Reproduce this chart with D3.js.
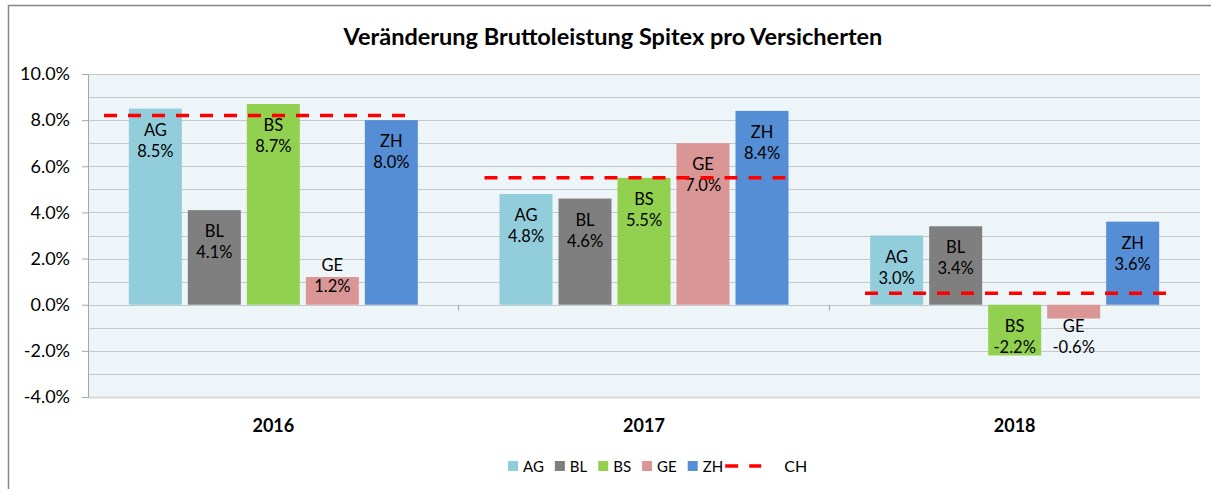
<!DOCTYPE html>
<html>
<head>
<meta charset="utf-8">
<script src="https://cdn.jsdelivr.net/npm/d3@7"></script>
<style>
  body { margin: 0; background: #fff; }
  svg text { font-family: Lato, "Open Sans", sans-serif; fill: #000; }
</style>
</head>
<body>
<svg width="1211" height="489"></svg>
<script>
var years = ["2016", "2017", "2018"];
var cantons = ["AG", "BL", "BS", "GE", "ZH"];
var AG = [8.5, 4.8, 3.0];
var BL = [4.1, 4.6, 3.4];
var BS = [8.7, 5.5, -2.2];
var GE = [1.2, 7.0, -0.6];
var ZH = [8.0, 8.4, 3.6];
var CH = [8.2, 5.5, 0.5];
var yTicks = [-4, -2, 0, 2, 4, 6, 8, 10];

var colors = { AG: "#92cddc", BL: "#7f7f7f", BS: "#92d050", GE: "#da9694", ZH: "#558ed5" };
var series = { AG: AG, BL: BL, BS: BS, GE: GE, ZH: ZH };

var svg = d3.select("svg");
var plotLeft = 88, plotRight = 1200, plotTop = 74, plotBottom = 397;

// chart border
svg.append("path")
  .attr("d", "M8.5,489 L8.5,5.5 L1211,5.5")
  .attr("fill", "none")
  .attr("stroke", "#868686")
  .attr("stroke-width", 1.5);

svg.append("text")
  .attr("x", 613).attr("y", 45)
  .attr("text-anchor", "middle")
  .style("font-size", "23.5px").style("font-weight", "bold")
  .text("Veränderung Bruttoleistung Spitex pro Versicherten");

var y = d3.scaleLinear().domain([-4, 10]).range([plotBottom, plotTop]);
var x0 = d3.scaleBand().domain(years).range([plotLeft, plotRight]);
var x1 = d3.scaleBand().domain(cantons).range([0, 289]).paddingInner(6 / 59);
// the CH series sits on its own (secondary) category positions
var xCH = d3.scalePoint().domain(years).range([257, 1018]);

// plot background
svg.append("rect")
  .attr("x", plotLeft).attr("y", plotTop)
  .attr("width", plotRight - plotLeft).attr("height", plotBottom - plotTop)
  .attr("fill", "#eef5f9");

// gridlines every 1%
svg.append("g").selectAll("line")
  .data(d3.range(-4, 11))
  .enter().append("line")
  .attr("x1", plotLeft).attr("x2", plotRight)
  .attr("y1", function(d) { return Math.round(y(d)) + 0.5; })
  .attr("y2", function(d) { return Math.round(y(d)) + 0.5; })
  .attr("stroke", function(d) { return d === -4 ? "#d9d9d9" : "#c4c8cb"; })
  .attr("stroke-width", function(d) { return d === -4 ? 2 : 1.2; });

// y axis
var yAxis = svg.append("g")
  .attr("transform", "translate(" + plotLeft + ",0)")
  .call(d3.axisLeft(y).tickValues(yTicks).tickSize(6).tickPadding(12)
    .tickFormat(function(d) { return d.toFixed(1) + "%"; }));
yAxis.select(".domain").attr("stroke", "#a6a6a6");
yAxis.selectAll(".tick line").attr("stroke", "#a6a6a6");
yAxis.selectAll("text").style("font-size", "18px").style("font-family", "Lato, sans-serif").attr("fill", "#000");

// category axis on zero line, ticks at band boundaries
svg.append("g").selectAll("line")
  .data([1, 2])
  .enter().append("line")
  .attr("x1", function(d) { return plotLeft + d * x0.bandwidth(); })
  .attr("x2", function(d) { return plotLeft + d * x0.bandwidth(); })
  .attr("y1", y(0)).attr("y2", y(0) + 6)
  .attr("stroke", "#a6a6a6");

svg.append("g").selectAll("text")
  .data(years)
  .enter().append("text")
  .attr("x", function(d) { return x0(d) + x0.bandwidth() / 2; })
  .attr("y", 432)
  .attr("text-anchor", "middle")
  .style("font-size", "18px").style("font-weight", "bold")
  .text(function(d) { return d; });

// bars
var rows = [];
years.forEach(function(yr, i) {
  cantons.forEach(function(c) {
    rows.push({ year: yr, canton: c, value: series[c][i] });
  });
});
var off = x0.bandwidth() / 2 - 144.5;

svg.append("g").selectAll("rect")
  .data(rows)
  .enter().append("rect")
  .attr("x", function(d) { return x0(d.year) + off + x1(d.canton); })
  .attr("y", function(d) { return y(Math.max(d.value, 0)); })
  .attr("width", x1.bandwidth())
  .attr("height", function(d) { return Math.abs(y(d.value) - y(0)); })
  .attr("fill", function(d) { return colors[d.canton]; });

// labels: inside end for positive bars (kept above the zero line), from zero for negatives
var labels = svg.append("g").selectAll("g")
  .data(rows)
  .enter().append("g")
  .attr("transform", function(d) {
    var ay = d.value >= 0 ? Math.min(y(d.value), y(0) - 61) : y(0);
    return "translate(" + (x0(d.year) + off + x1(d.canton) + x1.bandwidth() / 2) + "," + ay + ")";
  });
labels.append("text")
  .attr("y", 27).attr("text-anchor", "middle")
  .style("font-size", "16.5px").attr("fill", "#262626")
  .text(function(d) { return d.canton; });
labels.append("text")
  .attr("y", 48).attr("text-anchor", "middle")
  .style("font-size", "16.5px").attr("fill", "#262626")
  .text(function(d) { return d.value.toFixed(1) + "%"; });

// CH dashed segments
var chRows = years.map(function(yr, i) { return { year: yr, value: CH[i] }; });
svg.append("g").selectAll("line")
  .data(chRows)
  .enter().append("line")
  .attr("x1", function(d) { return xCH(d.year) - 153; })
  .attr("x2", function(d) { return xCH(d.year) + 158; })
  .attr("y1", function(d) { return y(d.value); })
  .attr("y2", function(d) { return y(d.value); })
  .attr("stroke", "#ff0000")
  .attr("stroke-width", 3.5)
  .attr("stroke-dasharray", "13,11");

// legend
var legend = svg.append("g").attr("transform", "translate(0,466)");
var lx = 508;
cantons.forEach(function(c) {
  legend.append("rect")
    .attr("x", lx).attr("y", -5).attr("width", 10).attr("height", 10)
    .attr("fill", colors[c]);
  var t = legend.append("text")
    .attr("x", lx + 15).attr("y", 5.5)
    .style("font-size", "15px").attr("fill", "#404040")
    .text(c);
  lx += 15 + t.node().getComputedTextLength() + 11;
});
lx -= 11;
legend.append("line")
  .attr("x1", lx + 2).attr("x2", lx + 38)
  .attr("y1", 0).attr("y2", 0)
  .attr("stroke", "#ff0000").attr("stroke-width", 3.5)
  .attr("stroke-dasharray", "13,11");
legend.append("text")
  .attr("x", lx + 61).attr("y", 6)
  .style("font-size", "16px").attr("fill", "#000")
  .text("CH");
</script>
</body>
</html>
